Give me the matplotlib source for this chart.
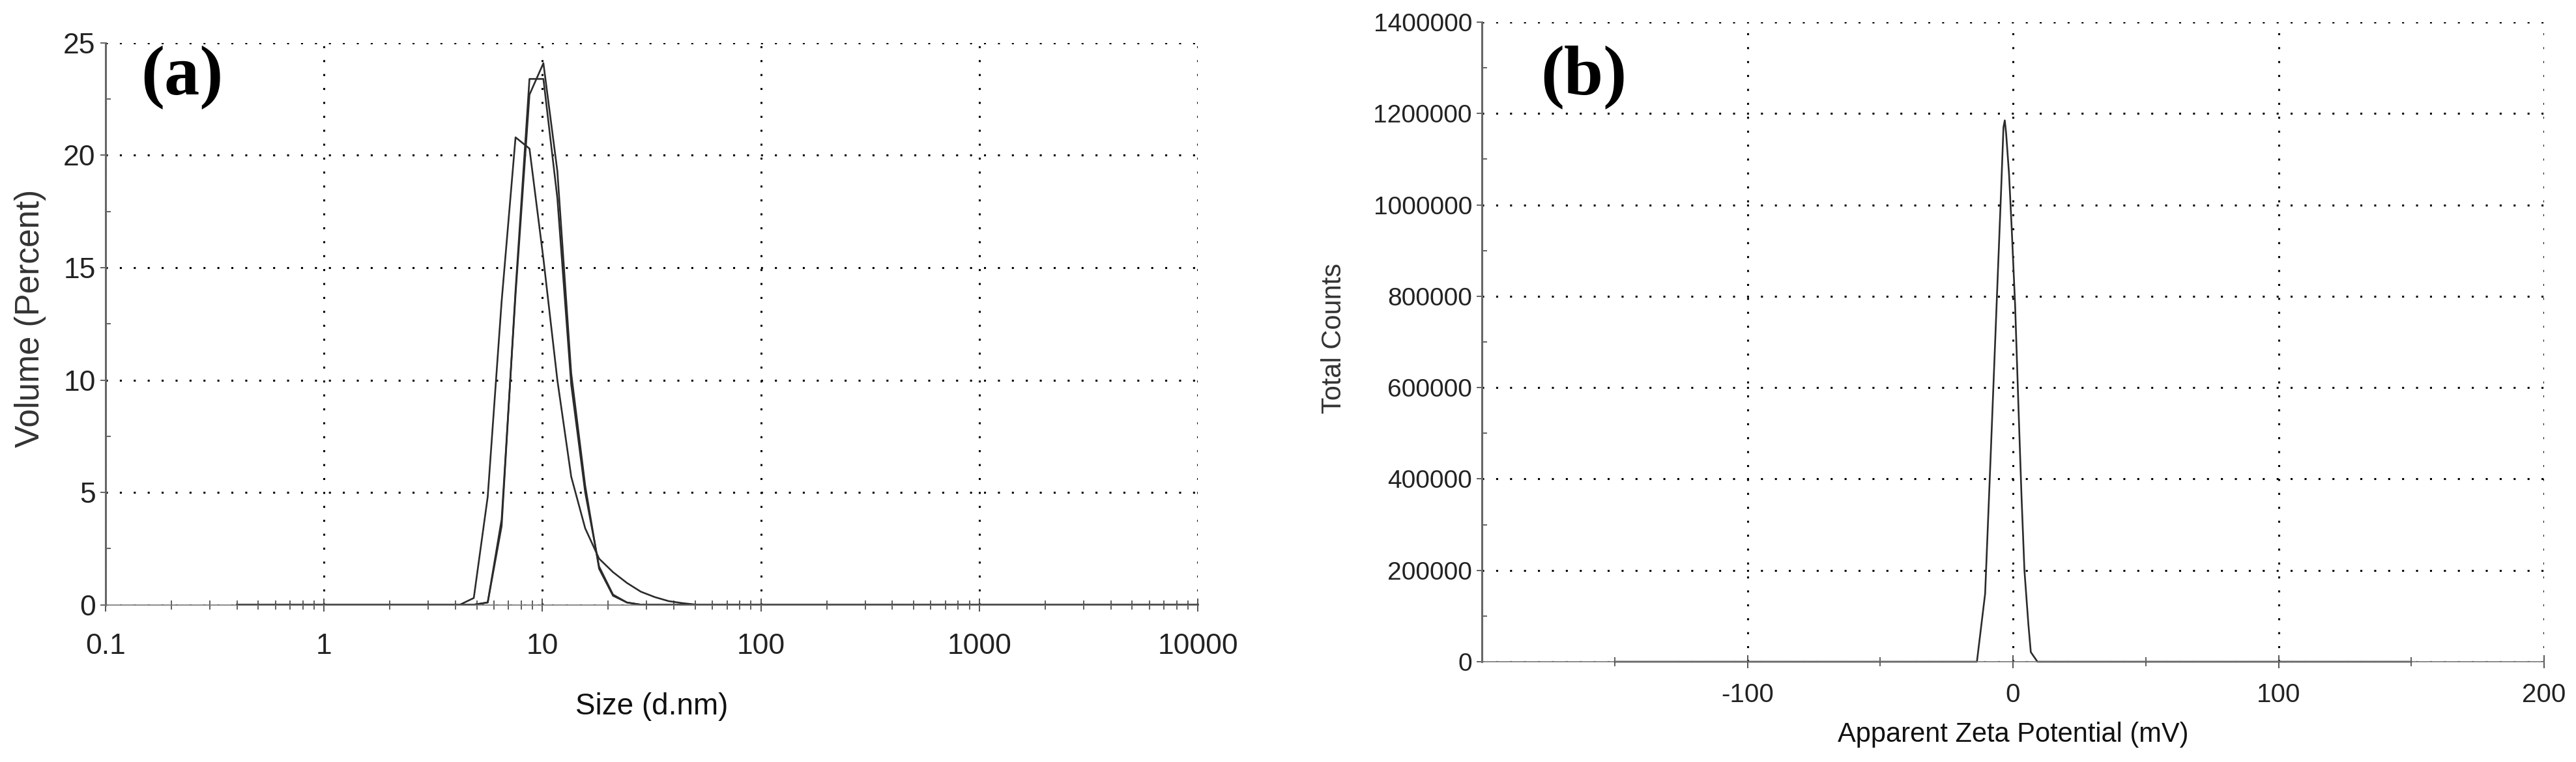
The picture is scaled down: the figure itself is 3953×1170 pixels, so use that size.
import matplotlib
matplotlib.use('Agg')
import matplotlib.pyplot as plt
from matplotlib.ticker import FixedLocator, FixedFormatter, MultipleLocator, LogLocator, NullFormatter

# ---- data: (a) size distribution by volume, three runs ----
size_nm = [0.4000, 0.4632, 0.5365, 0.6213, 0.7195, 0.8332, 0.9649, 1.117, 1.294, 1.499,
           1.736, 2.010, 2.328, 2.696, 3.122, 3.615, 4.187, 4.849, 5.615, 6.503,
           7.531, 8.721, 10.10, 11.70, 13.54, 15.69, 18.17, 21.04, 24.36, 28.21,
           32.67, 37.84, 43.82, 50.75, 58.77, 68.06, 78.82, 91.28, 105.7, 122.4,
           141.8, 164.2, 190.1, 220.2, 255.0, 295.3, 342.0, 396.1, 458.7, 531.2,
           615.1, 712.4, 825.0, 955.4, 1106, 1281, 1484, 1718, 1990, 2305,
           2669, 3091, 3580, 4145, 4801, 5560, 6439, 7456, 8635, 10000]

volume_run1 = [0, 0, 0, 0, 0, 0, 0, 0, 0, 0,
               0, 0, 0, 0, 0, 0, 0, 0.3, 4.8, 13.5,
               20.8, 20.3, 15.4, 10.0, 5.7, 3.4, 2.05, 1.45, 0.97, 0.58,
               0.34, 0.16, 0.07, 0, 0, 0, 0, 0, 0, 0,
               0, 0, 0, 0, 0, 0, 0, 0, 0, 0,
               0, 0, 0, 0, 0, 0, 0, 0, 0, 0,
               0, 0, 0, 0, 0, 0, 0, 0, 0, 0]

volume_run2 = [0, 0, 0, 0, 0, 0, 0, 0, 0, 0,
               0, 0, 0, 0, 0, 0, 0, 0, 0.1, 3.5,
               14.0, 23.4, 23.4, 18.1, 9.8, 5.0, 1.7, 0.45, 0.1, 0,
               0, 0, 0, 0, 0, 0, 0, 0, 0, 0,
               0, 0, 0, 0, 0, 0, 0, 0, 0, 0,
               0, 0, 0, 0, 0, 0, 0, 0, 0, 0,
               0, 0, 0, 0, 0, 0, 0, 0, 0, 0]

volume_run3 = [0, 0, 0, 0, 0, 0, 0, 0, 0, 0,
               0, 0, 0, 0, 0, 0, 0, 0, 0.1, 3.8,
               13.8, 22.7, 24.1, 19.3, 10.3, 5.3, 1.6, 0.4, 0.1, 0,
               0, 0, 0, 0, 0, 0, 0, 0, 0, 0,
               0, 0, 0, 0, 0, 0, 0, 0, 0, 0,
               0, 0, 0, 0, 0, 0, 0, 0, 0, 0,
               0, 0, 0, 0, 0, 0, 0, 0, 0, 0]

size_ticks = [0.1, 1, 10, 100, 1000, 10000]
size_labels = ["0.1", "1", "10", "100", "1000", "10000"]
volume_ticks = [0, 5, 10, 15, 20, 25]

# ---- data: (b) zeta potential distribution ----
zeta_mv = [-150, -13.6, -10.5, -8.5, -6.5, -4.5, -3.6, -3.1, -2.6, -1.5,
           -0.5, 0.8, 2.1, 3.2, 4.3, 5.8, 6.7, 9.2, 150]
total_counts = [0, 0, 149000, 439000, 734000, 1029000, 1170000, 1185000, 1157000, 1068000,
                949000, 779000, 549000, 362000, 200000, 81000, 21000, 0, 0]

zeta_ticks = [-100, 0, 100, 200]
zeta_labels = ["-100", "0", "100", "200"]
zeta_minor = [-150, -50, 50, 150]
count_ticks = [0, 200000, 400000, 600000, 800000, 1000000, 1200000, 1400000]

SANS = ['Liberation Sans', 'DejaVu Sans']
SERIF = ['Liberation Serif', 'DejaVu Serif']
plt.rcParams['font.family'] = SANS

fig = plt.figure(figsize=(39.53, 11.70), dpi=100)
ax1 = fig.add_axes([0.04098, 0.2064, 0.4240, 0.7372])
ax2 = fig.add_axes([0.5753, 0.1316, 0.4123, 0.8393])

grid_style = dict(color='black', linestyle=(0, (1, 6)), linewidth=2.2)
line_color = '#2b2b2b'


def style_axes(ax, xpad):
    for side in ('top', 'right'):
        ax.spines[side].set_visible(False)
    ax.spines['left'].set_color('#666666')
    ax.spines['left'].set_linewidth(2.2)
    ax.spines['bottom'].set_color('#777777')
    ax.spines['bottom'].set_linewidth(1.2)
    ax.tick_params(axis='y', which='major', direction='out', length=6, width=1.3,
                   color='#555555', pad=5)
    ax.tick_params(axis='y', which='minor', direction='in', length=6, width=1.3,
                   color='#555555')
    ax.tick_params(axis='x', which='major', direction='inout', length=14, width=1.3,
                   color='#444444', pad=xpad)
    ax.tick_params(axis='x', which='minor', direction='inout', length=10, width=1.2,
                   color='#444444')
    ax.grid(True, which='major', **grid_style)
    ax.set_axisbelow(True)


# ---- panel (a) ----
for run in (volume_run1, volume_run2, volume_run3):
    ax1.plot(size_nm, run, color=line_color, linewidth=1.9, clip_on=False)
ax1.set_xscale('log')
ax1.set_xlim(0.1, 10000)
ax1.set_ylim(0, 25)
style_axes(ax1, xpad=24)
ax1.xaxis.set_major_locator(FixedLocator(size_ticks))
ax1.xaxis.set_major_formatter(FixedFormatter(size_labels))
ax1.xaxis.set_minor_locator(LogLocator(base=10, subs=[2, 3, 4, 5, 6, 7, 8, 9]))
ax1.xaxis.set_minor_formatter(NullFormatter())
ax1.yaxis.set_major_locator(FixedLocator(volume_ticks))
ax1.yaxis.set_minor_locator(MultipleLocator(2.5))
for lab in ax1.get_xticklabels():
    lab.set_fontsize(32)
    lab.set_color('#222222')
for lab in ax1.get_yticklabels():
    lab.set_fontsize(32)
    lab.set_color('#222222')
ax1.set_xlabel('Size (d.nm)', fontsize=33, color='#111111')
ax1.xaxis.set_label_coords(0.5, -0.156)
ax1.set_ylabel('Volume (Percent)', fontsize=37, color='#333333')
ax1.yaxis.set_label_coords(-0.0543, 0.51)
fig.text(216 / 3953, 1 - 119 / 1170, '(a)', fontsize=78, fontweight='bold',
         family=SERIF, ha='left', va='center')

# ---- panel (b) ----
ax2.plot(zeta_mv, total_counts, color=line_color, linewidth=1.9, clip_on=False)
ax2.set_xlim(-200, 200)
ax2.set_ylim(0, 1400000)
style_axes(ax2, xpad=16)
ax2.xaxis.set_major_locator(FixedLocator(zeta_ticks))
ax2.xaxis.set_major_formatter(FixedFormatter(zeta_labels))
ax2.xaxis.set_minor_locator(FixedLocator(zeta_minor))
ax2.yaxis.set_major_locator(FixedLocator(count_ticks))
ax2.yaxis.set_major_formatter(FixedFormatter([str(v) for v in count_ticks]))
ax2.yaxis.set_minor_locator(MultipleLocator(100000))
for lab in ax2.get_xticklabels():
    lab.set_fontsize(29)
    lab.set_color('#222222')
for lab in ax2.get_yticklabels():
    lab.set_fontsize(28)
    lab.set_color('#222222')
ax2.set_xlabel('Apparent Zeta Potential (mV)', fontsize=30, color='#111111')
ax2.xaxis.set_label_coords(0.5, -0.094)
ax2.set_ylabel('Total Counts', fontsize=30, color='#333333')
ax2.yaxis.set_label_coords(-0.127, 0.506)
fig.text(2364 / 3953, 1 - 119 / 1170, '(b)', fontsize=78, fontweight='bold',
         family=SERIF, ha='left', va='center')

fig.savefig('out.png', dpi=100)
plt.close(fig)
